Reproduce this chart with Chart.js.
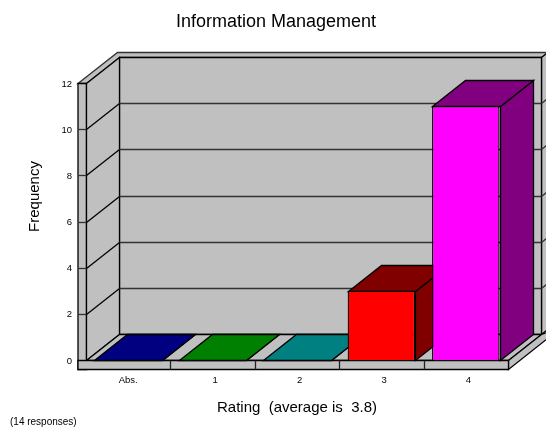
<!DOCTYPE html>
<html>
<head>
<meta charset="utf-8">
<script src="https://cdn.jsdelivr.net/npm/chart.js@4/dist/chart.umd.min.js"></script>
<style>
  html, body { margin: 0; padding: 0; background: #fff; }
  canvas { display: block; }
</style>
</head>
<body>
<canvas id="chart" width="546" height="432"></canvas>
<script>
const categories = ["Abs.", "1", "2", "3", "4"];
const frequency = [0, 0, 0, 3, 11];
const frontColors = ["#0000ff", "#00ff00", "#00ffff", "#ff0000", "#ff00ff"];
const depthColors = ["#000080", "#008000", "#008080", "#800000", "#800080"];
const yMax = 12;
const yStep = 2;
const fontFamily = "'Liberation Sans', Arial, sans-serif";

// how far the back of the box sits from the front plane
const depthX = 33;
const depthY = -26;
const lip = 8.5;
const wallGrey = "#c0c0c0";
const edgeWidth = 1.3;

const px = (v) => Math.round(v) + 0.5;

function poly(ctx, points, fill, stroke) {
  ctx.beginPath();
  points.forEach(([x, y], i) => (i ? ctx.lineTo(x, y) : ctx.moveTo(x, y)));
  ctx.closePath();
  ctx.fillStyle = fill;
  ctx.fill();
  ctx.strokeStyle = stroke;
  ctx.lineWidth = edgeWidth;
  ctx.stroke();
}

function line(ctx, x1, y1, x2, y2, color) {
  ctx.beginPath();
  ctx.moveTo(x1, y1);
  ctx.lineTo(x2, y2);
  ctx.strokeStyle = color;
  ctx.lineWidth = edgeWidth;
  ctx.stroke();
}

function label(ctx, text, size, x, y, align, angle) {
  ctx.save();
  ctx.fillStyle = "#000";
  ctx.font = size + "px " + fontFamily;
  ctx.textAlign = align;
  ctx.textBaseline = "middle";
  ctx.translate(x, y);
  if (angle) ctx.rotate(angle);
  ctx.fillText(text, 0, 0);
  ctx.restore();
}

const box3d = {
  id: "box3d",
  beforeDatasetsDraw(chart) {
    const { ctx, chartArea, scales } = chart;
    const yScale = scales.y;
    const xScale = scales.x;
    const left = px(chartArea.left);
    const right = px(chartArea.right);
    const top = px(yScale.getPixelForValue(yMax));
    const bottom = px(yScale.getPixelForValue(0));
    const backLeft = left + depthX;
    const backRight = right + depthX;
    const backTop = top + depthY;
    const backBottom = bottom + depthY;
    const outerLeft = left - lip;
    const edge = bottom + 9;

    ctx.save();
    // top edge of the walls, then outer strip on the left
    poly(ctx, [[outerLeft, top], [backLeft - 2, backTop - 5], [backRight + lip, backTop - 5],
      [backRight, backTop], [backLeft, backTop], [left, top]], wallGrey, "#333");
    poly(ctx, [[outerLeft, top], [left, top], [left, edge], [outerLeft, edge]], wallGrey, "#000");
    // walls and floor
    poly(ctx, [[backRight, backTop], [backRight + 20, backTop - 16], [backRight + 20, backBottom - 16],
      [backRight, backBottom]], wallGrey, "#000");
    poly(ctx, [[backLeft, backTop], [backRight, backTop], [backRight, backBottom], [backLeft, backBottom]], wallGrey, "#000");
    poly(ctx, [[left, top], [backLeft, backTop], [backLeft, backBottom], [left, bottom]], wallGrey, "#000");
    poly(ctx, [[left, bottom], [right, bottom], [backRight, backBottom], [backLeft, backBottom]], wallGrey, "#000");
    // front and right edges of the floor
    poly(ctx, [[right, bottom], [backRight, backBottom], [backRight + 20, backBottom - 16 + 9], [right, edge]], wallGrey, "#000");
    poly(ctx, [[outerLeft, bottom], [right, bottom], [right, edge], [outerLeft, edge]], wallGrey, "#000");

    // grid lines run along the side walls and the back wall
    yScale.ticks.forEach((tick) => {
      if (tick.value === 0 || tick.value === yMax) return;
      const y = px(yScale.getPixelForValue(tick.value));
      line(ctx, outerLeft, y, left, y, "#333");
      line(ctx, left, y, backLeft, y + depthY, "#000");
      line(ctx, backLeft, y + depthY, backRight, y + depthY, "#333");
      line(ctx, backRight, y + depthY, backRight + 20, y + depthY - 16, "#333");
    });

    // category separators on the front edge
    categories.forEach((_, i) => {
      if (i === 0) return;
      const x = px((xScale.getPixelForValue(i - 1) + xScale.getPixelForValue(i)) / 2);
      line(ctx, x, bottom, x, edge, "#222");
    });

    // side and top faces of the bars; the front face is the library's own bar
    chart.getDatasetMeta(0).data.forEach((bar, i) => {
      const { x, y, base, width } = bar.getProps(["x", "y", "base", "width"], true);
      const l = px(x - width / 2);
      const r = px(x + width / 2);
      const t = px(y);
      const b = px(base);
      poly(ctx, [[r, t], [r + depthX, t + depthY], [r + depthX, b + depthY], [r, b]], depthColors[i], "#000");
      poly(ctx, [[l, t], [l + depthX, t + depthY], [r + depthX, t + depthY], [r, t]], depthColors[i], "#000");
    });
    ctx.restore();
  },
  afterDraw(chart) {
    const { ctx } = chart;
    label(ctx, "Information Management", 18, 276, 22, "center");
    label(ctx, "Frequency", 15, 34.5, 196.5, "center", -Math.PI / 2);
    label(ctx, "(14 responses)", 10, 10, 422.5, "left");
  },
};

new Chart(document.getElementById("chart"), {
  type: "bar",
  data: {
    labels: categories,
    datasets: [
      {
        data: frequency,
        backgroundColor: frontColors,
        borderColor: "#000",
        borderWidth: edgeWidth,
        barPercentage: 0.8,
        categoryPercentage: 1,
      },
    ],
  },
  options: {
    responsive: false,
    animation: false,
    layout: { padding: { left: 0, right: 38, top: 83, bottom: 0 } },
    plugins: {
      legend: { display: false },
      tooltip: { enabled: false },
    },
    scales: {
      x: {
        grid: { display: false, drawTicks: false },
        border: { display: false },
        ticks: {
          color: "#000",
          font: { family: fontFamily, size: 9.5 },
          padding: 15,
          maxRotation: 0,
          // the digit labels sit a little right of their band centre
          callback: (value, i) => (i ? "  " + categories[i] : categories[i]),
        },
        title: {
          display: true,
          text: "Rating  (average is  3.8)",
          color: "#000",
          font: { family: fontFamily, size: 15 },
          padding: { top: 0, bottom: 15 },
        },
        afterFit(scale) {
          scale.height = 72;
        },
      },
      y: {
        min: 0,
        max: yMax,
        grid: { display: false, drawTicks: false },
        border: { display: false },
        ticks: {
          stepSize: yStep,
          color: "#000",
          font: { family: fontFamily, size: 9.5 },
          padding: 14,
          labelOffset: 1,
        },
        afterFit(scale) {
          scale.width = 86;
        },
      },
    },
  },
  plugins: [box3d],
});
</script>
</body>
</html>
